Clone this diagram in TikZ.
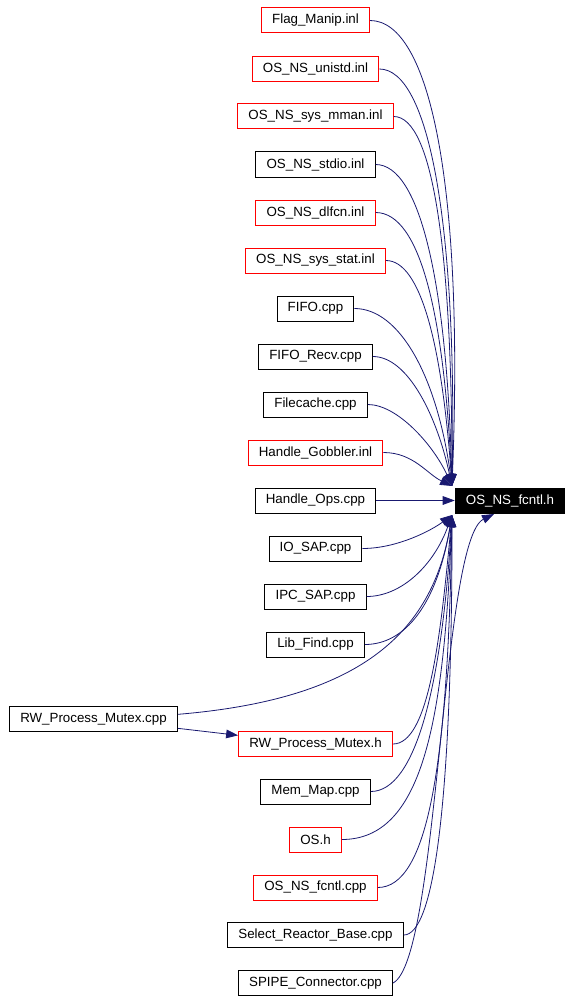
\documentclass[tikz,border=0pt]{standalone}
\usepackage{fontspec}
\setmainfont{Liberation Sans}
\usetikzlibrary{arrows.meta}
\definecolor{edgeblue}{RGB}{25,25,112}
\tikzset{
  file/.style={draw=black, line width=0.75pt, minimum height=18.75pt, inner xsep=8pt, font=\fontsize{10}{12}\selectfont},
  redfile/.style={file, draw=red},
  focus/.style={file, fill=black, text=white},
  inclink/.style={draw=edgeblue, line width=0.6pt, -{Triangle[length=9pt,width=6.5pt]}},
}
\begin{document}
\begin{tikzpicture}[x=0.75pt,y=-0.75pt]
\useasboundingbox (0,0) rectangle (572,1002);
% files that include the header
\foreach \n/\y/\s/\t in {flag/20.5/redfile/Flag\_Manip.inl, unistd/69/redfile/OS\_NS\_unistd.inl,
    mman/116.5/redfile/OS\_NS\_sys\_mman.inl, stdio/164.5/file/OS\_NS\_stdio.inl,
    dlfcn/212.5/redfile/OS\_NS\_dlfcn.inl, stat/260.5/redfile/OS\_NS\_sys\_stat.inl,
    fifo/308.5/file/FIFO.cpp, recv/356.5/file/FIFO\_Recv.cpp, filecache/404.5/file/Filecache.cpp,
    gobbler/452.5/redfile/Handle\_Gobbler.inl, ops/500.5/file/Handle\_Ops.cpp,
    iosap/548.5/file/IO\_SAP.cpp, ipcsap/596.5/file/IPC\_SAP.cpp, libfind/644.5/file/Lib\_Find.cpp,
    rwh/744/redfile/RW\_Process\_Mutex.h, memmap/791.5/file/Mem\_Map.cpp, os/839.5/redfile/OS.h,
    fcntlcpp/887.5/redfile/OS\_NS\_fcntl.cpp, select/935/file/Select\_Reactor\_Base.cpp,
    spipe/983/file/SPIPE\_Connector.cpp} {
  \node[\s] (\n) at (315.5,\y) {\t};
}
\node[file] (rwcpp) at (93.5,719) {RW\_Process\_Mutex.cpp};
\node[focus] (fcntlh) at (510,500.5) {OS\_NS\_fcntl.h};

\coordinate (intop) at (452,486);
\coordinate (inbot) at (452,515);
\coordinate (inunder) at (494,514);

% edges from above
\foreach \n/\a/\bx/\by in {flag/60/12/-300, unistd/50/5/-260, mman/40/0/-230, stdio/45/-5/-200,
    dlfcn/45/-8/-170, stat/35/-10/-140, fifo/45/-15/-110, recv/35/-15/-70, filecache/30/-18/-40,
    gobbler/30/-25/-12} {
  \draw[inclink] (\n.east) .. controls +(\a,0) and +(\bx,\by) .. (intop);
}
\draw[inclink] (ops.east) -- (fcntlh.west);
% edges from below
\foreach \n/\a/\bx/\by in {iosap/35/-20/15, ipcsap/35/-18/50, libfind/40/-15/90, rwh/35/-12/130,
    memmap/45/-10/170, os/80/-8/210, fcntlcpp/50/-4/250, select/30/0/290} {
  \draw[inclink] (\n.east) .. controls +(\a,0) and +(\bx,\by) .. (inbot);
}
\draw[inclink] ([yshift=3.5pt]rwcpp.east) .. controls +(180,-15) and +(-20,120) .. (inbot);
\draw[inclink] ([yshift=-7pt]rwcpp.east) -- ([yshift=6.5pt]rwh.west);
\draw[inclink] (spipe.east) .. controls +(46,-23) and +(-53,26) .. (inunder);
\end{tikzpicture}
\end{document}
